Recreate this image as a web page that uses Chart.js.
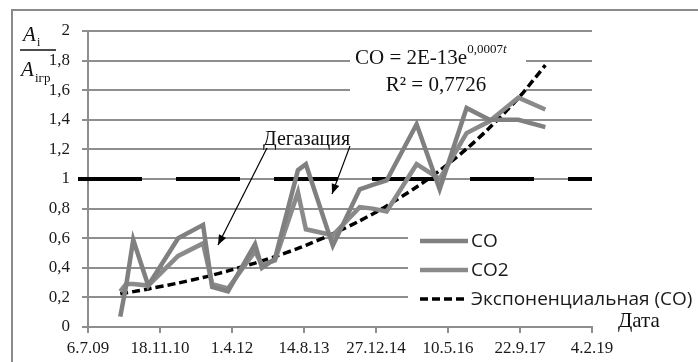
<!DOCTYPE html>
<html>
<head>
<meta charset="utf-8">
<script src="https://cdn.jsdelivr.net/npm/chart.js@4/dist/chart.umd.min.js"></script>
<style>
  html, body { margin: 0; padding: 0; background: #fff; overflow: hidden; }
  #wrap { position: relative; width: 698px; height: 362px; }
</style>
</head>
<body>
<div id="wrap"><canvas id="c" width="698" height="362"></canvas></div>
<script>
// Measurement dates and relative activity values A_i / A_iгр
const measureDates = [
  '2010-02-15', '2010-03-28', '2010-05-16', '2010-08-28', '2011-03-24',
  '2011-09-13', '2011-11-15', '2012-03-04', '2012-09-08', '2012-10-26',
  '2013-01-24', '2013-07-03', '2013-08-27', '2014-03-02', '2014-09-05',
  '2014-12-04', '2015-03-11', '2015-10-05', '2016-03-13', '2016-09-16',
  '2017-02-22', '2017-09-11', '2018-03-17'
];
const coValues = [
  0.07, 0.28, 0.59, 0.28, 0.60,
  0.69, 0.27, 0.24, 0.56, 0.40,
  0.46, 1.06, 1.10, 0.55, 0.93,
  0.96, 0.99, 1.37, 0.93, 1.48,
  1.40, 1.40, 1.35
];
const co2Values = [
  0.24, 0.29, 0.29, 0.28, 0.48,
  0.565, 0.29, 0.26, 0.51, 0.42,
  0.45, 0.91, 0.66, 0.62, 0.81,
  0.80, 0.78, 1.10, 1.00, 1.31,
  1.39, 1.55, 1.47
];
// Exponential trend of CO at the same dates
const coTrendValues = [
  0.224, 0.231, 0.239, 0.257, 0.297,
  0.335, 0.350, 0.379, 0.432, 0.446,
  0.475, 0.531, 0.552, 0.629, 0.717,
  0.764, 0.818, 0.946, 1.057, 1.204,
  1.346, 1.547, 1.769
];
const seriesLabels = ['CO', 'CO2', 'Экспоненциальная (CO)'];
const xAxisStart = '2009-07-06';
const xAxisEnd = '2019-02-04';
const xTickStepDays = 500;
const yTickValues = [0, 0.2, 0.4, 0.6, 0.8, 1, 1.2, 1.4, 1.6, 1.8, 2];
const thresholdLevel = 1;
const trendEquation = { lead: 'CO = 2E-13e', power: '0,0007', variable: 't', r2: 'R² = 0,7726' };
const degasLabel = 'Дегазация';
const xTitle = 'Дата';

// Spreadsheet-style day numbers (days since 1899-12-30)
const EPOCH = Date.UTC(1899, 11, 30);
function toSerial(iso) {
  const [y, m, d] = iso.split('-').map(Number);
  return Math.round((Date.UTC(y, m - 1, d) - EPOCH) / 86400000);
}
function serialLabel(s) {
  const dt = new Date(EPOCH + s * 86400000);
  return dt.getUTCDate() + '.' + (dt.getUTCMonth() + 1) + '.' + String(dt.getUTCFullYear() % 100).padStart(2, '0');
}
const pts = vals => measureDates.map((d, i) => ({ x: toSerial(d), y: vals[i] }));

const GRID = '#8e8e8e';
const SERIF = '"Liberation Serif", "Times New Roman", serif';
const SANS = '"Open Sans", "Noto Sans", sans-serif';

const decor = {
  id: 'decor',
  beforeDraw(chart) {
    const c = chart.ctx;
    c.save();
    c.fillStyle = '#fff';
    c.fillRect(0, 0, chart.width, chart.height);
    c.strokeStyle = '#8a8a8a';
    c.lineWidth = 2;
    c.strokeRect(12, 10, chart.width + 20, chart.height + 20);
    c.restore();
  },
  beforeDatasetsDraw(chart) {
    const c = chart.ctx, ys = chart.scales.y, area = chart.chartArea;
    c.save();
    // backgrounds of the equation and legend boxes hide the grid behind them
    c.fillStyle = '#fff';
    c.fillRect(350, 45, 176, 58);
    c.fillRect(408, 226, 290, 86);
    const y = ys.getPixelForValue(thresholdLevel);
    c.strokeStyle = '#000';
    c.lineWidth = 4;
    c.setLineDash([64, 34]);
    c.beginPath();
    c.moveTo(78, y);
    c.lineTo(area.right, y);
    c.stroke();
    c.restore();
  },
  afterDatasetsDraw(chart) {
    const c = chart.ctx;
    c.save();
    // trend equation label
    c.fillStyle = '#111';
    c.textBaseline = 'alphabetic';
    c.font = '21px ' + SERIF;
    c.textAlign = 'left';
    c.fillText(trendEquation.lead, 355, 64);
    let w = c.measureText(trendEquation.lead).width;
    c.font = '13px ' + SERIF;
    c.fillText(trendEquation.power, 355 + w, 53);
    const w2 = c.measureText(trendEquation.power).width;
    c.font = 'italic 13px ' + SERIF;
    c.fillText(trendEquation.variable, 355 + w + w2, 53);
    c.font = '21px ' + SERIF;
    c.textAlign = 'center';
    c.fillText(trendEquation.r2, 436, 91);

    // degassing note with arrows
    c.textAlign = 'left';
    c.font = '20px ' + SERIF;
    c.fillText(degasLabel, 263, 145);
    const arrow = (x1, y1, x2, y2) => {
      c.strokeStyle = '#000';
      c.lineWidth = 1.2;
      c.beginPath(); c.moveTo(x1, y1); c.lineTo(x2, y2); c.stroke();
      const a = Math.atan2(y2 - y1, x2 - x1), L = 10, H = 4;
      c.beginPath();
      c.moveTo(x2, y2);
      c.lineTo(x2 - L * Math.cos(a) + H * Math.sin(a), y2 - L * Math.sin(a) - H * Math.cos(a));
      c.lineTo(x2 - L * Math.cos(a) - H * Math.sin(a), y2 - L * Math.sin(a) + H * Math.cos(a));
      c.closePath(); c.fillStyle = '#000'; c.fill();
    };
    arrow(267, 148, 218, 245);
    arrow(350, 146, 332, 194);

    // legend
    const rows = [241, 270, 299];
    chart.data.datasets.forEach((ds, i) => {
      const y = rows[i];
      c.save();
      c.strokeStyle = ds.borderColor;
      c.lineWidth = ds.borderWidth;
      c.setLineDash(ds.borderDash || []);
      c.beginPath(); c.moveTo(420, y); c.lineTo(468, y); c.stroke();
      c.restore();
      c.fillStyle = '#1a1a1a';
      c.font = '19px ' + SANS;
      c.textBaseline = 'middle';
      c.textAlign = 'left';
      c.fillText(ds.label, 471, y + 1);
    });

    // axis titles
    c.textBaseline = 'alphabetic';
    c.fillStyle = '#111';
    c.font = 'italic 21px ' + SERIF;
    c.fillText('A', 23, 41);
    c.fillText('A', 21, 76);
    c.font = '12px ' + SERIF;
    c.fillText('i', 37, 46);
    c.font = '13px ' + SERIF;
    c.fillText('iгр', 35, 82);
    c.strokeStyle = '#111';
    c.lineWidth = 1.3;
    c.beginPath(); c.moveTo(20, 50); c.lineTo(56, 50); c.stroke();
    c.font = '21px ' + SERIF;
    c.fillText(xTitle, 618, 327);
    c.restore();
  }
};

new Chart(document.getElementById('c'), {
  type: 'line',
  data: {
    datasets: [
      { label: seriesLabels[0], data: pts(coValues), borderColor: '#808080', borderWidth: 4.5,
        pointRadius: 0, tension: 0, fill: false, borderJoinStyle: 'miter' },
      { label: seriesLabels[1], data: pts(co2Values), borderColor: '#8a8a8a', borderWidth: 4.5,
        pointRadius: 0, tension: 0, fill: false, borderJoinStyle: 'miter' },
      { label: seriesLabels[2], data: pts(coTrendValues), borderColor: '#000', borderWidth: 3.5,
        borderDash: [8, 4], pointRadius: 0, tension: 0.3, fill: false }
    ]
  },
  options: {
    responsive: false,
    animation: false,
    layout: { padding: { left: 0, right: 106, top: 31, bottom: 0 } },
    plugins: { legend: { display: false }, tooltip: { enabled: false } },
    scales: {
      x: {
        type: 'linear',
        min: toSerial(xAxisStart),
        max: toSerial(xAxisEnd),
        afterBuildTicks: s => {
          const t = [];
          for (let v = toSerial(xAxisStart); v <= toSerial(xAxisEnd); v += xTickStepDays) t.push({ value: v });
          s.ticks = t;
        },
        afterFit: s => { s.height = 35; },
        grid: { drawOnChartArea: false, color: GRID, lineWidth: 2, tickLength: 6 },
        border: { color: GRID, width: 2 },
        ticks: { callback: v => serialLabel(v), color: '#1a1a1a', font: { family: SERIF, size: 17 },
                 padding: 5, maxRotation: 0, autoSkip: false }
      },
      y: {
        min: 0, max: 2,
        afterBuildTicks: s => { s.ticks = yTickValues.map(v => ({ value: v })); },
        afterFit: s => { s.width = 88; },
        grid: { color: GRID, lineWidth: 2, tickLength: 6 },
        border: { color: GRID, width: 2 },
        ticks: { callback: v => String(Math.round(v * 10) / 10).replace('.', ','), color: '#1a1a1a',
                 font: { family: SERIF, size: 17 }, padding: 12 }
      }
    }
  },
  plugins: [decor]
});
</script>
</body>
</html>
